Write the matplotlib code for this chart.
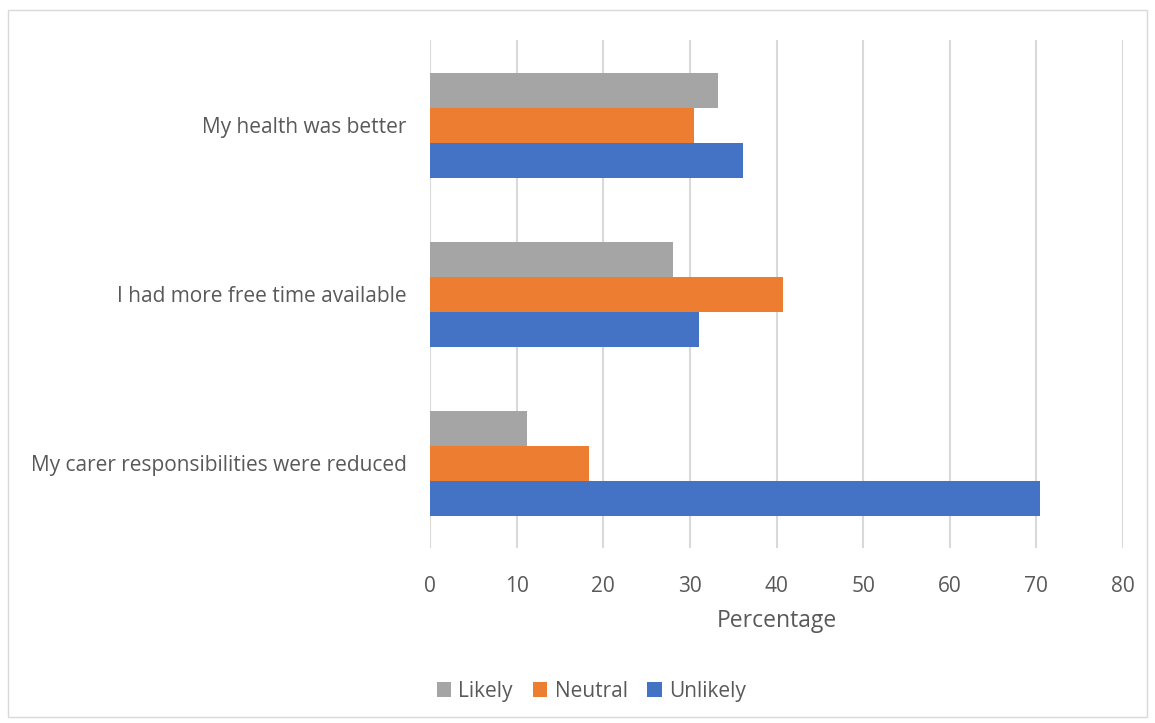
import numpy as np
import matplotlib.pyplot as plt
from matplotlib.patches import Rectangle

# Survey responses (percent of respondents)
statements = ["My carer responsibilities were reduced",
              "I had more free time available",
              "My health was better"]
likely = [11.2, 28.1, 33.3]
neutral = [18.3, 40.8, 30.5]
unlikely = [70.4, 31.0, 36.1]

colors = {"Likely": "#a5a5a5", "Neutral": "#ed7d31", "Unlikely": "#4472c4"}
text_col = "#595959"
grid_col = "#d9d9d9"

plt.rcParams["font.family"] = ["Open Sans", "DejaVu Sans"]

fig = plt.figure(figsize=(11.55, 7.23), dpi=100)
ax = fig.add_axes([0.3723, 0.242, 0.600, 0.702])

y = np.arange(len(statements))
h = 0.207
ax.barh(y + h, likely, height=h, color=colors["Likely"], label="Likely")
ax.barh(y, neutral, height=h, color=colors["Neutral"], label="Neutral")
ax.barh(y - h, unlikely, height=h, color=colors["Unlikely"], label="Unlikely")

ax.set_xlim(0, 80)
ax.set_ylim(-0.5, 2.5)
ax.set_xticks(range(0, 81, 10))
ax.set_yticks(y)
ax.set_yticklabels(statements)
ax.xaxis.grid(True, color=grid_col, linewidth=1.5)
ax.set_axisbelow(True)
for s in ax.spines.values():
    s.set_visible(False)
ax.tick_params(axis="both", length=0, labelsize=15, labelcolor=text_col)
ax.tick_params(axis="x", pad=20)
ax.tick_params(axis="y", pad=17)
ax.set_xlabel("Percentage", fontsize=16.5, color=text_col, labelpad=9)

leg = fig.legend(loc="center", bbox_to_anchor=(0.512, 0.044), ncol=3, frameon=False,
                 fontsize=15, handlelength=0.7, handleheight=0.7,
                 columnspacing=0.95, handletextpad=0.35)
for t in leg.get_texts():
    t.set_color(text_col)

# light frame around the chart area
fig.patches.append(Rectangle((0.007, 0.008), 0.986, 0.978, transform=fig.transFigure,
                             fill=False, edgecolor=grid_col, linewidth=1))

fig.savefig("out.png", dpi=100)
